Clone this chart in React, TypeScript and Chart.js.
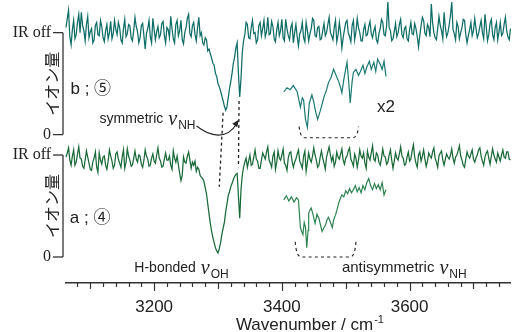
import { useEffect, useRef } from "react";
import { Chart, registerables } from "chart.js";

Chart.register(...registerables);

// wavenumber sampling of the main traces (cm-1)
const X_START = 3062;
const X_STEP = 2;
const X_MIN = 3062;
const X_MAX = 3758;

// panel b (⑤) – ion signal, 1 = IR off level, 0 = zero
const traceB = [
  1.05, 1.14, 1.22, 0.96, 0.88, 1.03, 1.12, 0.94, 0.98, 1.1, 1.18, 1.0, 1.2, 1.07, 1.02, 0.92, 1.08, 1.16, 0.95, 1.01,
  1.04, 0.9, 0.93, 1.07, 1.1, 0.98, 0.97, 1.12, 1.06, 0.95, 0.91, 1.02, 1.08, 0.94, 1.0, 1.11, 0.94, 0.99, 1.12, 1.03,
  0.98, 1.1, 1.05, 0.93, 0.9, 1.04, 1.13, 0.96, 0.99, 1.08, 1.07, 0.95, 0.92, 1.02, 1.15, 1.06, 1.01, 0.9, 0.95, 1.07,
  1.09, 0.97, 0.84, 0.99, 1.04, 1.12, 0.96, 0.9, 1.14, 1.03, 0.93, 1.01, 1.06, 0.95, 0.98, 1.09, 1.11, 0.97, 0.9, 1.05,
  1.03, 0.95, 1.16, 1.04, 0.94, 0.9, 1.08, 1.12, 0.97, 1.02, 1.12, 0.93, 0.89, 1.0, 1.05, 1.14, 1.18, 0.99, 0.96, 1.07,
  1.1, 0.98, 0.92, 1.05, 1.15, 0.97, 1.0, 0.9, 0.88, 0.95, 0.93, 0.82, 0.84, 0.79, 0.75, 0.7, 0.68, 0.6, 0.57, 0.5,
  0.47, 0.43, 0.38, 0.33, 0.28, 0.24, 0.27, 0.36, 0.45, 0.52, 0.6, 0.7, 0.76, 0.85, 0.9, 0.6, 0.37, 0.55, 0.8, 0.92,
  0.98, 1.1, 1.08, 0.95, 0.94, 1.05, 1.12, 0.99, 1.0, 0.9, 0.93, 1.07, 1.1, 0.97, 1.04, 1.12, 0.96, 1.01, 1.15, 0.98,
  0.99, 1.11, 1.06, 0.94, 0.91, 1.03, 1.1, 0.97, 1.02, 1.13, 0.95, 0.92, 1.13, 1.04, 0.97, 0.93, 1.05, 1.09, 0.9, 1.0,
  1.08, 0.96, 0.87, 0.99, 1.02, 1.1, 0.95, 0.91, 1.1, 1.02, 0.92, 0.99, 1.04, 1.14, 1.12, 0.97, 0.96, 1.05, 1.06, 0.93,
  0.94, 1.02, 1.09, 0.97, 1.0, 1.08, 1.15, 1.0, 0.97, 0.93, 1.05, 1.12, 0.91, 0.98, 1.1, 1.0, 0.85, 0.95, 1.03, 1.1,
  1.12, 1.0, 0.96, 0.91, 1.07, 1.12, 0.93, 1.01, 1.14, 1.05, 1.0, 0.92, 0.92, 1.03, 1.08, 0.97, 0.98, 1.06, 1.11, 0.99,
  0.95, 1.02, 1.06, 0.93, 0.9, 0.99, 1.04, 1.13, 1.1, 0.98, 0.97, 1.07, 1.3, 1.05, 1.02, 0.92, 0.94, 1.01, 1.09, 0.96,
  1.0, 1.08, 1.13, 0.98, 0.95, 1.04, 1.06, 0.94, 0.92, 1.03, 1.1, 0.99, 0.98, 1.09, 1.04, 0.96, 0.86, 0.97, 1.07, 1.15,
  1.12, 0.99, 0.97, 1.08, 1.05, 0.96, 1.28, 1.1, 1.0, 0.95, 0.93, 1.04, 1.16, 1.07, 1.02, 0.94, 1.2, 1.05, 0.96, 1.0,
  1.08, 1.17, 1.3, 1.03, 0.99, 0.93, 1.1, 1.06, 0.94, 1.0, 1.05, 1.13, 1.12, 0.98, 0.9, 0.97, 1.03, 1.1, 0.97, 1.02,
  1.14, 1.04, 0.95, 0.99, 1.06, 1.12, 1.0, 0.94, 1.18, 1.06, 0.92, 0.98, 1.09, 1.13, 0.98, 0.93, 1.05, 1.1, 0.93, 1.01,
  1.1, 0.97, 0.99, 1.08, 1.15, 1.02, 0.96, 0.93, 1.04,
];

// panel a (④)
const traceA = [
  0.98, 1.02, 1.07, 0.95, 0.9, 0.99, 1.05, 0.9, 0.93, 1.01, 1.08, 0.97, 0.96, 0.89, 0.87, 0.95, 1.04, 0.98, 0.92, 0.86,
  0.85, 0.93, 0.97, 1.03, 0.88, 0.83, 1.02, 0.95, 0.91, 0.98, 0.99, 0.9, 0.86, 0.94, 1.05, 0.99, 0.94, 0.87, 0.9, 1.01,
  1.03, 0.96, 0.92, 0.88, 0.98, 1.05, 0.87, 0.93, 1.06, 0.99, 0.95, 0.89, 0.9, 0.97, 1.04, 0.96, 0.93, 1.0, 0.99, 0.91,
  0.88, 0.95, 1.05, 0.99, 0.96, 0.89, 0.9, 0.97, 1.01, 0.94, 0.92, 1.0, 1.07, 0.97, 0.94, 0.88, 0.89, 0.96, 1.02, 0.95,
  0.95, 0.99, 0.9, 0.86, 1.04, 0.97, 0.93, 0.99, 0.9, 0.82, 0.75, 0.8, 0.98, 0.93, 0.92, 0.99, 1.03, 0.95, 0.87, 0.93,
  0.9, 0.94, 0.84, 0.88, 0.86, 0.8, 0.78, 0.77, 0.74, 0.68, 0.62, 0.52, 0.42, 0.33, 0.25, 0.19, 0.14, 0.09, 0.06, 0.04,
  0.08, 0.14, 0.22, 0.28, 0.34, 0.44, 0.52, 0.6, 0.64, 0.69, 0.72, 0.76, 0.79, 0.81, 0.82, 0.6, 0.38, 0.66, 0.8, 0.88,
  0.93, 0.97, 0.88, 0.94, 1.0, 0.9, 0.91, 0.98, 1.05, 0.96, 0.94, 0.87, 0.87, 0.95, 1.02, 0.99, 0.96, 1.03, 1.08, 0.95,
  0.92, 0.88, 0.99, 1.03, 0.86, 0.93, 1.04, 0.97, 0.95, 1.0, 1.06, 0.92, 0.9, 0.85, 0.97, 1.02, 1.03, 0.94, 0.88, 0.93,
  0.96, 1.01, 1.05, 0.94, 0.91, 0.87, 0.99, 1.04, 0.84, 0.93, 1.02, 0.96, 0.93, 0.99, 1.07, 1.0, 0.95, 0.88, 0.9, 0.98,
  1.04, 0.97, 0.92, 0.86, 0.98, 1.03, 1.08, 1.0, 0.94, 0.99, 0.89, 0.93, 1.03, 0.98, 0.96, 1.01, 1.06, 0.95, 0.91, 0.97,
  0.99, 1.04, 1.07, 0.96, 0.93, 0.89, 1.01, 0.97, 0.88, 0.95, 1.05, 0.99, 0.97, 1.02, 0.92, 0.87, 1.04, 0.98, 0.95, 1.02,
  1.09, 0.96, 0.94, 1.02, 1.0, 0.93, 0.9, 0.97, 1.06, 0.99, 0.98, 0.91, 0.93, 1.0, 1.05, 0.95, 0.87, 0.94, 1.02, 0.97,
  0.95, 1.01, 1.08, 0.99, 0.97, 0.9, 0.91, 0.98, 1.03, 0.94, 0.96, 1.04, 1.1, 0.98, 0.92, 0.88, 1.0, 1.03, 0.94, 0.99,
  1.05, 0.96, 0.89, 0.94, 1.02, 0.99, 0.97, 1.03, 1.07, 0.97, 0.93, 0.88, 0.99, 1.02, 1.04, 0.95, 0.9, 0.96, 1.01, 0.98,
  0.96, 1.0, 1.06, 0.97, 0.92, 0.98, 1.0, 1.04, 1.09, 0.99, 0.95, 0.9, 0.88, 0.96, 1.03, 0.99, 0.97, 1.01, 1.05, 0.96,
  0.93, 0.97, 1.0, 1.05, 1.07, 0.99, 0.94, 0.9, 0.98, 1.02, 1.04, 0.97, 0.91, 0.99, 1.06, 1.0, 0.96, 0.93, 1.02, 0.98,
  0.94, 1.0, 1.05, 0.98, 0.97, 1.03, 1.03, 0.96, 0.95,
];

// x2 insets (values in the units of their own panel)
const insetBX = [
  3403, 3408, 3413, 3418, 3424, 3429, 3432, 3434, 3437, 3440,
  3443, 3447, 3450, 3452, 3456, 3460, 3463, 3466, 3470, 3473,
  3477, 3481, 3485, 3489, 3492, 3494, 3497, 3499, 3502, 3505,
  3507, 3510, 3512, 3516, 3520, 3523, 3527, 3530, 3533, 3537,
  3540, 3544, 3547, 3550, 3554, 3557, 3560, 3563,
];
const insetBY = [
  0.42, 0.46, 0.44, 0.48, 0.42, 0.27, 0.36, 0.34, 0.15, 0.07,
  0.31, 0.39, 0.32, 0.25, 0.15, 0.23, 0.3, 0.37, 0.44, 0.51,
  0.56, 0.64, 0.58, 0.52, 0.46, 0.41, 0.54, 0.61, 0.71, 0.49,
  0.31, 0.52, 0.61, 0.64, 0.58, 0.62, 0.68, 0.6, 0.66, 0.72,
  0.64, 0.71, 0.62, 0.74, 0.69, 0.64, 0.72, 0.57,
];
const insetAX = [
  3403, 3407, 3411, 3415, 3419, 3423, 3426, 3429, 3431, 3433,
  3435, 3437, 3439, 3441, 3442, 3444, 3446, 3449, 3452, 3455,
  3458, 3461, 3463, 3466, 3468, 3471, 3473, 3476, 3479, 3481,
  3484, 3487, 3489, 3492, 3494, 3497, 3500, 3503, 3506, 3509,
  3512, 3515, 3518, 3521, 3524, 3527, 3530, 3533, 3536, 3539,
  3542, 3545, 3548, 3551, 3554, 3557, 3560, 3563,
];
const insetAY = [
  0.56, 0.6, 0.55, 0.59, 0.54, 0.58, 0.56, 0.29, 0.25, 0.22,
  0.34, 0.29, 0.09, 0.26, 0.43, 0.46, 0.48, 0.41, 0.33, 0.42,
  0.38, 0.3, 0.25, 0.29, 0.31, 0.37, 0.39, 0.34, 0.29, 0.36,
  0.41, 0.48, 0.53, 0.58, 0.61, 0.59, 0.65, 0.62, 0.67, 0.63,
  0.66, 0.7, 0.64, 0.68, 0.63, 0.7, 0.66, 0.73, 0.77, 0.7,
  0.66, 0.72, 0.67, 0.71, 0.66, 0.73, 0.61, 0.66,
];

const xTickLabels = [3200, 3400, 3600];
const PANEL_B_OFFSET = 1.2; // vertical offset of panel b on the shared scale
const yTickLabels = ["0", "IR off"];

const SANS = '"Liberation Sans", "Noto Sans CJK JP", sans-serif';
const JP = '"Noto Sans CJK JP", sans-serif';
const SERIF = '"Liberation Serif", serif';

const overlay = {
  id: "overlay",
  afterDatasetsDraw(chart: any) {
    const { ctx, chartArea } = chart;
    const xs = chart.scales.x;
    const ys = chart.scales.y;
    const X = (w: number) => xs.getPixelForValue(w);
    const Y = (v: number) => ys.getPixelForValue(v);
    ctx.save();
    ctx.strokeStyle = "#333";
    ctx.fillStyle = "#222";
    const line = (x1: number, y1: number, x2: number, y2: number) => {
      ctx.beginPath();
      ctx.moveTo(x1, y1);
      ctx.lineTo(x2, y2);
      ctx.stroke();
    };

    // x tick marks
    ctx.lineWidth = 1.2;
    const yb = chartArea.bottom;
    xs.ticks.forEach((t: any) => {
      const v = Math.round(t.value);
      if (v % 20 !== 0) return;
      const len = v % 200 === 0 ? 8 : v % 100 === 0 ? 6 : 4;
      const px = Math.round(X(v)) + 0.5;
      line(px, yb, px, yb + len);
    });

    // x axis title (with superscript)
    ctx.textAlign = "left";
    ctx.textBaseline = "alphabetic";
    ctx.font = `17px ${SANS}`;
    const tx = X(3328), tb = yb + 47;
    ctx.fillText("Wavenumber / cm", tx, tb);
    const tw = ctx.measureText("Wavenumber / cm").width;
    ctx.font = `11px ${SANS}`;
    ctx.fillText("-1", tx + tw + 1, tb - 7);

    // y axes of the two panels
    const ax = chartArea.left - 3;
    [PANEL_B_OFFSET, 0].forEach((base) => {
      const y0 = Y(base);
      const y1 = Y(base + 1);
      ctx.lineWidth = 1.3;
      line(ax, y1, ax, y0);
      line(ax - 10, y0, ax, y0);
      line(ax - 10, y1, ax, y1);
      ctx.font = `16px ${SERIF}`;
      ctx.textAlign = "right";
      ctx.textBaseline = "middle";
      ctx.fillText(yTickLabels[0], ax - 12, y0);
      ctx.fillText(yTickLabels[1], ax - 12, y1);
      // rotated axis title
      ctx.save();
      ctx.translate(ax - 11, (y0 + y1) / 2);
      ctx.rotate(-Math.PI / 2);
      ctx.font = `16px ${JP}`;
      ctx.textAlign = "center";
      ctx.textBaseline = "middle";
      ctx.fillText("イオン量", 0, 0);
      ctx.restore();
    });

    // panel labels
    ctx.font = `17px ${SANS}`;
    ctx.textAlign = "left";
    ctx.textBaseline = "middle";
    ctx.fillText("b ; ⑤", X(3069), Y(1.647));
    ctx.fillText("a ; ④", X(3068), Y(0.382));
    ctx.fillText("x2", X(3549), Y(1.47));

    // labels with nu + subscript
    const nuLabel = (text: string, sub: string, x: number, base: number, size: number) => {
      ctx.textBaseline = "alphabetic";
      ctx.textAlign = "left";
      ctx.font = `${size}px ${SANS}`;
      ctx.fillText(text, x, base);
      let cx = x + ctx.measureText(text).width + 5;
      ctx.font = `italic 20px ${SERIF}`;
      ctx.fillText("ν", cx, base + 2);
      cx += ctx.measureText("ν").width + 1;
      ctx.font = `12px ${SANS}`;
      ctx.fillText(sub, cx, base + 6);
      return cx + ctx.measureText(sub).width;
    };
    const endSym = nuLabel("symmetric", "NH", X(3114.5), Y(1.314), 14);
    nuLabel("H-bonded", "OH", X(3169), Y(-0.147), 14);
    nuLabel("antisymmetric", "NH", X(3494), Y(-0.147), 15);

    // curved arrow
    ctx.lineWidth = 1.1;
    ctx.strokeStyle = "#222";
    const ax0 = endSym + 1, ay0 = Y(1.284);
    const tipX = X(3332.5), tipY = Y(1.345);
    ctx.beginPath();
    ctx.moveTo(ax0, ay0);
    ctx.bezierCurveTo(ax0 + 14, ay0 + 11, tipX - 12, ay0 + 14, tipX - 2, tipY + 4);
    ctx.stroke();
    ctx.beginPath();
    ctx.moveTo(tipX, tipY);
    ctx.lineTo(tipX - 6.5, tipY + 4);
    ctx.lineTo(tipX - 1.5, tipY + 7.5);
    ctx.closePath();
    ctx.fill();

    // dashed guides
    ctx.setLineDash([3, 3]);
    ctx.lineWidth = 1.3;
    ctx.strokeStyle = "#222";
    line(X(3308), Y(PANEL_B_OFFSET + 0.215), X(3302), Y(0.69));
    line(X(3333), Y(PANEL_B_OFFSET + 0.33), X(3332), Y(0.88));

    // brackets under insets
    const bracket = (wl: number, wr: number, vTop: number, vBot: number) => {
      const xl = X(wl), xr = X(wr), yt = Y(vTop), ybt = Y(vBot);
      ctx.beginPath();
      ctx.moveTo(xl, yt);
      ctx.quadraticCurveTo(xl + 1, ybt, xl + 6, ybt);
      ctx.lineTo(xr - 6, ybt);
      ctx.quadraticCurveTo(xr - 1, ybt, xr, yt);
      ctx.stroke();
    };
    ctx.setLineDash([3, 3.2]);
    ctx.lineWidth = 1.1;
    bracket(3427, 3520, PANEL_B_OFFSET + 0.08, PANEL_B_OFFSET - 0.03);
    bracket(3421, 3516, 0.15, 0.0);
    ctx.restore();
  },
};

export default function App() {
  const ref = useRef<HTMLCanvasElement | null>(null);
  useEffect(() => {
    if (!ref.current) return;
    const mk = (arr: number[], off: number) =>
      arr.map((v, i) => ({ x: X_START + i * X_STEP, y: v + off }));
    const mkXY = (xsArr: number[], ysArr: number[], off: number) =>
      xsArr.map((x, i) => ({ x, y: ysArr[i] + off }));
    const chart = new Chart(ref.current, {
      type: "line",
      data: {
        datasets: [
          { data: mk(traceB, PANEL_B_OFFSET), borderColor: "#0f6d68", borderWidth: 1.25 },
          { data: mkXY(insetBX, insetBY, PANEL_B_OFFSET), borderColor: "#1d7a74", borderWidth: 1.2 },
          { data: mk(traceA, 0), borderColor: "#1a6a38", borderWidth: 1.25 },
          { data: mkXY(insetAX, insetAY, 0), borderColor: "#2f8552", borderWidth: 1.2 },
        ].map((d) => ({ ...d, pointRadius: 0, tension: 0, fill: false, clip: false as any })),
      },
      options: {
        responsive: false,
        animation: false,
        devicePixelRatio: 1,
        layout: { padding: { left: 66, top: 0, right: 0, bottom: 0 } },
        plugins: { legend: { display: false }, tooltip: { enabled: false } },
        events: [],
        scales: {
          x: {
            type: "linear",
            min: X_MIN,
            max: X_MAX,
            afterFit: (s: any) => {
              s.height = 49;
            },
            grid: { display: false, drawTicks: false },
            border: { display: true, color: "#333", width: 1.5 },
            ticks: {
              stepSize: 20,
              includeBounds: false,
              autoSkip: false,
              maxRotation: 0,
              padding: 14,
              color: "#222",
              font: { family: SANS, size: 17 },
              callback: (v: any) => (xTickLabels.includes(Math.round(v)) ? String(Math.round(v)) : ""),
            },
            title: { display: false },
          },
          y: { display: false, min: -0.255, max: 2.52 },
        },
      },
      plugins: [overlay],
    });
    return () => chart.destroy();
  }, []);
  return (
    <div style={{ position: "absolute", left: 0, top: 0, width: 513, height: 332, background: "#fff" }}>
      <canvas ref={ref} width={513} height={332} style={{ width: 513, height: 332, display: "block" }} />
    </div>
  );
}
